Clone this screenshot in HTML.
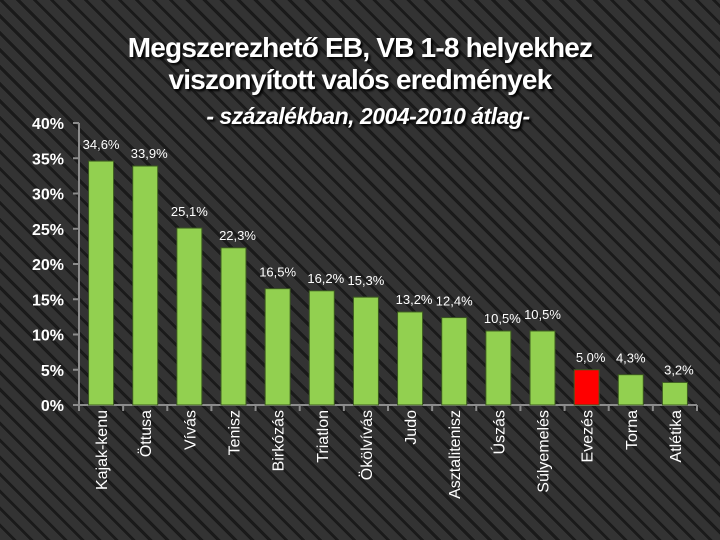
<!DOCTYPE html>
<html><head><meta charset="utf-8"><style>
body{margin:0;}
#c{width:720px;height:540px;position:relative;overflow:hidden;
background:#2b2b2b repeating-linear-gradient(45deg,#333 0px,#333 9px,#1a1a1a 9px,#1a1a1a 12px);
font-family:"Liberation Sans",sans-serif;}
.t{position:absolute;left:0;width:720px;text-align:center;color:#fff;font-weight:bold;text-shadow:2px 2px 2px #000;}
</style></head><body>
<div id="c">
<div class="t" style="top:32px;font-size:28px;line-height:32px;letter-spacing:-0.8px">Megszerezhető EB, VB 1-8 helyekhez<br>viszonyított valós eredmények</div>
<div class="t" style="top:103px;left:8px;font-size:23px;font-style:italic;letter-spacing:-0.5px">- százalékban, 2004-2010 átlag-</div>
<svg id="s" width="720" height="540" style="position:absolute;left:0;top:0"></svg>
</div>
<script>
const categories=["Kajak-kenu","Öttusa","Vívás","Tenisz","Birkózás","Triatlon","Ökölvívás","Judo","Asztalitenisz","Úszás","Súlyemelés","Evezés","Torna","Atlétika"];
const values=[34.6,33.9,25.1,22.3,16.5,16.2,15.3,13.2,12.4,10.5,10.5,5.0,4.3,3.2];
const valueLabels=["34,6%","33,9%","25,1%","22,3%","16,5%","16,2%","15,3%","13,2%","12,4%","10,5%","10,5%","5,0%","4,3%","3,2%"];
const highlight=["Evezés"];
const yTicks=[0,5,10,15,20,25,30,35,40];
const s=document.getElementById('s');const NS="http://www.w3.org/2000/svg";
const x0=79,x1=697,y0=405,yTop=123,yMax=40;
const y=v=>y0-(v/yMax)*(y0-yTop);
const slot=(x1-x0)/categories.length;
const xc=i=>x0+slot*(i+0.5);
function mk(t,a){const e=document.createElementNS(NS,t);for(const k in a)e.setAttribute(k,a[k]);s.appendChild(e);return e;}
let e=mk('line',{x1:x0,y1:yTop,x2:x0,y2:y0,stroke:'#8c8c8c','stroke-width':2});

e=mk('line',{x1:x0,y1:y0,x2:x1,y2:y0,stroke:'#8c8c8c','stroke-width':2});

yTicks.forEach(v=>{
 const t=mk('line',{x1:x0-6,y1:y(v),x2:x0,y2:y(v),stroke:'#8c8c8c','stroke-width':2});
 
 const l=mk('text',{x:64,y:y(v)+6,'text-anchor':'end',fill:'#fff','font-size':16,'font-weight':'bold'});
 l.textContent=v+'%';
 
});
for(let i=0;i<=categories.length;i++){
 const t=mk('line',{x1:x0+slot*i,y1:y0,x2:x0+slot*i,y2:y0+6,stroke:'#8c8c8c','stroke-width':2});
 
}
categories.forEach((c,i)=>{
 const v=values[i],bw=25;
 const r=mk('rect',{x:xc(i)-bw/2,y:y(v),width:bw,height:y0-y(v),fill:highlight.includes(c)?'#ff0000':'#92d050',stroke:'#3c5a20','stroke-width':1});
 
 const l=mk('text',{x:xc(i)+(i%2?4:0),y:y(v)-(i%2?8:12),'text-anchor':'middle',fill:'#fff','font-size':13});
 l.textContent=valueLabels[i];
 
 const cl=mk('text',{x:0,y:0,'text-anchor':'end',fill:'#fff','font-size':16,transform:`translate(${xc(i)+6},410) rotate(-90)`});
 cl.textContent=c;
 
});
</script>
</body></html>
